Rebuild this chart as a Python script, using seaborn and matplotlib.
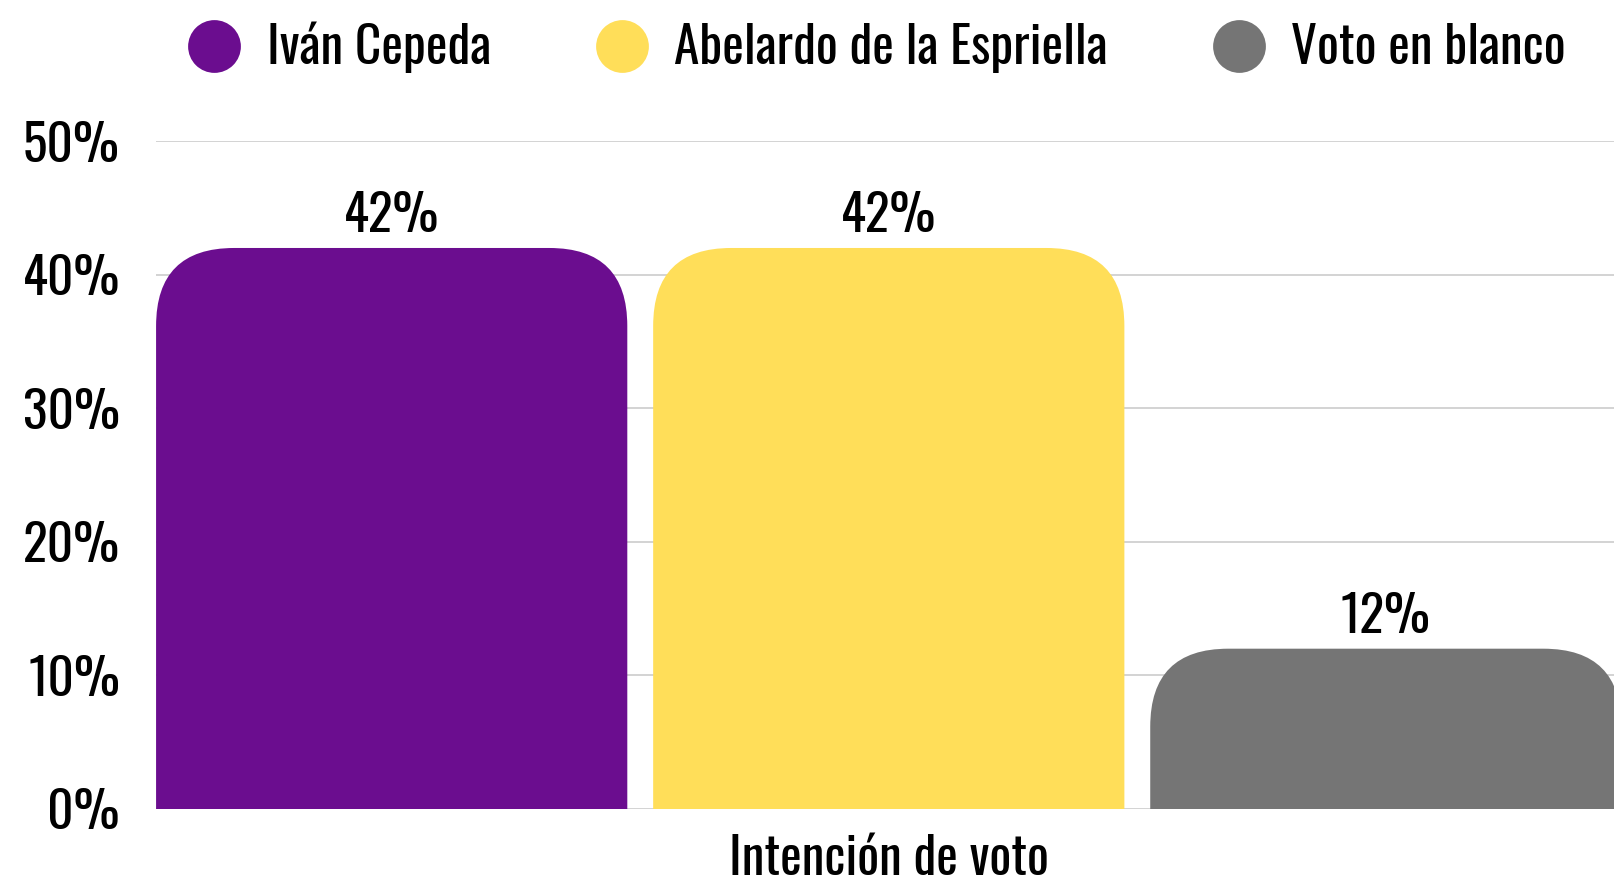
import pandas as pd
import matplotlib.pyplot as plt
import seaborn as sns
from matplotlib.patches import FancyBboxPatch

# Data
candidatos = ["Iván Cepeda", "Abelardo de la Espriella", "Voto en blanco"]
valores = [42, 42, 12]
categoria = "Intención de voto"
colores = ["#6B0D8F", "#FFDE59", "#757575"]
yticks = [0, 10, 20, 30, 40, 50]

sns.set_theme(style="white")
plt.rcParams['font.family'] = ['Oswald', 'DejaVu Sans']
FS = 37

df = pd.DataFrame({
    "categoria": [categoria] * len(candidatos),
    "candidato": candidatos,
    "valor": valores,
})

fig = plt.figure(figsize=(16.14, 8.82), dpi=100)
ax = fig.add_axes([0.0967, 0.0828, 0.9033, 0.7572])

sns.barplot(data=df, x="categoria", y="valor", hue="candidato",
            hue_order=candidatos, palette=colores, gap=0.052,
            saturation=1, legend=False, ax=ax)

bars = list(ax.patches)
left = min(b.get_x() for b in bars)
right = max(b.get_x() + b.get_width() for b in bars)
ax.set_xlim(left, right - 0.004)
ax.set_ylim(0, 50)

# swap the square bars for ones with rounded tops
fig.canvas.draw()
bbox = ax.get_window_extent()
px_x = bbox.width / (ax.get_xlim()[1] - ax.get_xlim()[0])
px_y = bbox.height / (ax.get_ylim()[1] - ax.get_ylim()[0])
radius_px = 78
rx = radius_px / px_x
ry = radius_px / px_y
for b in bars:
    x, w, h = b.get_x(), b.get_width(), b.get_height()
    color = b.get_facecolor()
    b.remove()
    ax.add_patch(FancyBboxPatch((x, -ry), w, h + ry,
                                boxstyle=f"round,pad=0,rounding_size={rx}",
                                mutation_aspect=ry / rx,
                                facecolor=color, edgecolor="none", zorder=2))
    ax.text(x + w / 2, h + 1.2, f"{h:.0f}%", ha="center", va="baseline",
            fontsize=FS, color="black")

ax.set_yticks(yticks)
ax.set_yticklabels([f"{v}%" for v in yticks])
ax.set_axisbelow(True)
ax.yaxis.grid(True, color="#cccccc", linewidth=1.2)
ax.xaxis.grid(False)
for s in ax.spines.values():
    s.set_visible(False)
ax.tick_params(axis="y", length=0, pad=26, labelsize=FS, labelcolor="black")
ax.tick_params(axis="x", length=0, pad=18, labelsize=FS, labelcolor="black")
ax.set_xlabel("")
ax.set_ylabel("")

# legend on top with round markers
handles = [plt.Line2D([], [], marker="o", linestyle="none", markersize=38,
                      markerfacecolor=c, markeredgecolor="none") for c in colores]
fig.legend(handles, candidatos, loc="center", bbox_to_anchor=(0.542, 0.946),
           ncol=3, frameon=False, fontsize=FS, handletextpad=0.42,
           columnspacing=1.95, handlelength=1.2, labelcolor="black")

fig.savefig("out.png", dpi=100)
plt.close(fig)
